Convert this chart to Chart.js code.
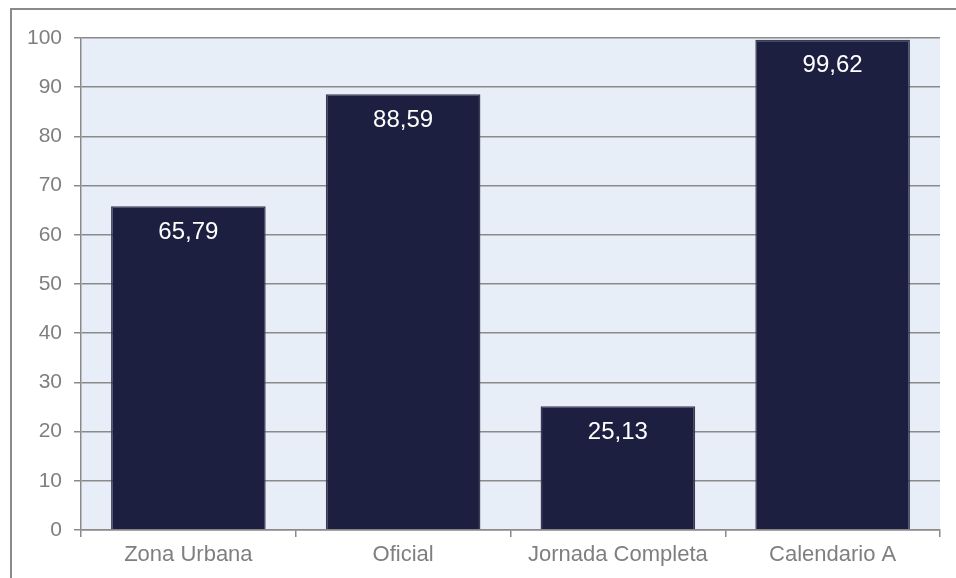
<!DOCTYPE html>
<html lang="es">
<head>
<meta charset="UTF-8">
<title>grafico</title>
<script src="https://cdn.jsdelivr.net/npm/chart.js"></script>
<style>
  body { margin: 0; background: #fff; overflow: hidden; }
  .marco { position: absolute; left: 10px; top: 8px; width: 1000px; height: 700px; border: 2px solid #8a8a8a; box-sizing: border-box; }
  .caja { position: absolute; left: 0; top: 0; width: 956px; height: 578px; }
</style>
</head>
<body>
<div class="marco"></div>
<div class="caja"><canvas id="grafico" width="956" height="578"></canvas></div>
<script>
var categorias = ['Zona Urbana', 'Oficial', 'Jornada Completa', 'Calendario A'];
var valores = [65.79, 88.59, 25.13, 99.62];
var ticksY = [0, 10, 20, 30, 40, 50, 60, 70, 80, 90, 100];

var fuente = '"Liberation Sans", Arial, sans-serif';

// fondo azul claro del area de trazado
var fondo = {
  id: 'fondo',
  beforeDraw: function (chart) {
    var a = chart.chartArea;
    var ctx = chart.ctx;
    ctx.save();
    ctx.fillStyle = '#e8eef7';
    ctx.fillRect(a.left, a.top, a.right - a.left, a.bottom - a.top);
    ctx.restore();
  }
};

// valores en blanco dentro de cada barra
var etiquetas = {
  id: 'etiquetas',
  afterDatasetsDraw: function (chart) {
    var ctx = chart.ctx;
    var meta = chart.getDatasetMeta(0);
    ctx.save();
    ctx.fillStyle = '#ffffff';
    ctx.font = '24px ' + fuente;
    ctx.textAlign = 'center';
    ctx.textBaseline = 'middle';
    meta.data.forEach(function (barra, i) {
      var txt = valores[i].toFixed(2).replace('.', ',');
      ctx.fillText(txt, barra.x, barra.y + 26);
    });
    ctx.restore();
  }
};

new Chart(document.getElementById('grafico'), {
  type: 'bar',
  data: {
    labels: categorias,
    datasets: [{
      data: valores,
      backgroundColor: '#1c1f40',
      borderColor: '#3a3c52',
      borderWidth: 1.5,
      categoryPercentage: 0.72,
      barPercentage: 1
    }]
  },
  options: {
    responsive: false,
    animation: false,
    layout: { padding: { left: 0, top: 38, right: 16, bottom: 0 } },
    plugins: { legend: { display: false }, tooltip: { enabled: false } },
    scales: {
      x: {
        offset: true,
        grid: { offset: true, drawOnChartArea: false, drawTicks: true, tickLength: 7, color: '#8a8a8a', lineWidth: 1.5 },
        border: { color: '#8a8a8a', width: 1.5 },
        ticks: { color: '#7f7f7f', font: { family: fuente, size: 22 }, padding: 5 },
        afterFit: function (s) { s.height = 48; }
      },
      y: {
        min: 0,
        max: 100,
        afterBuildTicks: function (s) { s.ticks = ticksY.map(function (v) { return { value: v }; }); },
        grid: { color: '#8a8a8a', lineWidth: 1.5, tickLength: 7 },
        border: { color: '#8a8a8a', width: 1.5 },
        ticks: { color: '#7f7f7f', font: { family: fuente, size: 21 }, padding: 12 },
        afterFit: function (s) { s.width = 81; }
      }
    }
  },
  plugins: [fondo, etiquetas]
});
</script>
</body>
</html>
